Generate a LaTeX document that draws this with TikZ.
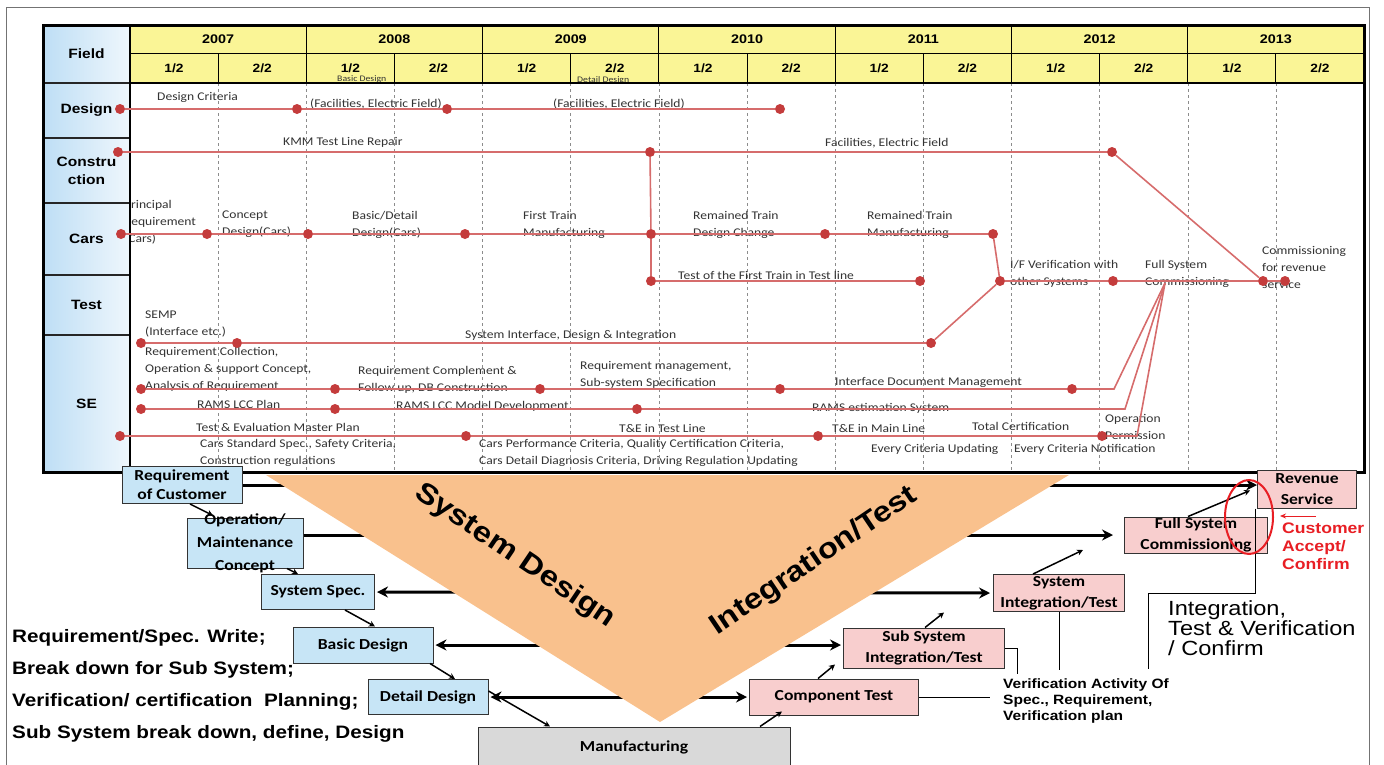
\documentclass[tikz,border=0pt]{standalone}
\usepackage{fontspec}
\setmainfont{Liberation Sans}[FakeStretch=1.15]
\newfontfamily\calib{Carlito}[FakeStretch=1.15]
\usetikzlibrary{arrows.meta}
\definecolor{fieldblue}{RGB}{190,222,245}
\definecolor{headyellow}{RGB}{250,245,150}
\definecolor{tline}{RGB}{214,108,108}
\definecolor{dotred}{RGB}{196,60,60}
\definecolor{vorange}{RGB}{249,193,141}
\definecolor{boxblue}{RGB}{199,229,246}
\definecolor{boxpink}{RGB}{248,206,206}
\definecolor{boxgray}{RGB}{217,217,217}
\definecolor{okred}{RGB}{232,30,36}
\tikzset{
  yearcell/.style={draw, line width=1, fill=headyellow, minimum width=176.3, minimum height=28, inner sep=0, font=\bfseries\fontsize{12.5}{14}\selectfont},
  halfcell/.style={draw, line width=1, fill=headyellow, minimum width=88.15, minimum height=30, inner sep=0, font=\bfseries\fontsize{12}{14}\selectfont},
  fieldcell/.style={draw=black!85, line width=1.5, left color=fieldblue, right color=fieldblue!25, minimum width=87, inner sep=0, align=center, font=\bfseries\fontsize{13.5}{18}\selectfont},
  gridline/.style={draw=black!45, dashed, line width=0.6},
  tl/.style={draw=tline, line width=1.6},
  mdot/.style={circle, fill=dotred, inner sep=0, minimum size=10},
  lbl/.style={anchor=west, inner sep=0, align=left, text=black!80, font=\calib\fontsize{11.8}{17}\selectfont},
  vbox/.style={draw=black!80, line width=1, inner sep=0},
  bluebox/.style={vbox, fill=boxblue},
  pinkbox/.style={vbox, fill=boxpink},
  boxtxt/.style={inner sep=0, align=center, font=\calib\bfseries\fontsize{15.3}{21}\selectfont},
  bigarrow/.style={line width=3, -{Stealth[length=11, width=11]}},
  bigboth/.style={line width=3, {Stealth[length=11, width=11]}-{Stealth[length=11, width=11]}},
  smallarrow/.style={line width=1.5, -{Stealth[length=6, width=6]}},
  thinline/.style={line width=1},
  sidetxt/.style={anchor=west, inner sep=0, align=left, font=\bfseries\fontsize{18}{32}\selectfont},
  vtitle/.style={inner sep=0, font=\bfseries\fontsize{28.5}{34}\selectfont}
}
\begin{document}
\begin{tikzpicture}[x=1pt, y=-1pt, >=stealth]
\useasboundingbox (0,0) rectangle (1384,764);
\draw[black!55, line width=0.8] (6,7) rectangle (1369,775);

% time grid
\foreach \k in {1,...,13}
  \draw[gridline] (130+88.15*\k, 83) -- (130+88.15*\k, 472);

% activity labels
\node[lbl] (l1) at (157,97) {Design Criteria};
\node[lbl] (l2) at (310,104) {(Facilities, Electric Field)};
\node[lbl] (l3) at (553,104) {(Facilities, Electric Field)};
\node[lbl] (l4) at (283,142) {KMM Test Line Repair};
\node[lbl] (l5) at (825,143) {Facilities, Electric Field};
\node[lbl] (l6) at (124,222) {Principal\\Requirement\\(Cars)};
\node[lbl] (l7) at (222,224) {Concept\\Design(Cars)};
\node[lbl] (l8) at (352,225) {Basic/Detail\\Design(Cars)};
\node[lbl] (l9) at (523,225) {First Train\\Manufacturing};
\node[lbl] (l10) at (693,225) {Remained Train\\Design Change};
\node[lbl] (l11) at (867,225) {Remained Train\\Manufacturing};
\node[lbl] (l12) at (678,275) {Test of the First Train in Test line};
\node[lbl] (l13) at (1010,274) {I/F Verification with\\other Systems};
\node[lbl] (l14) at (1145,274) {Full System\\Commissioning};
\node[lbl] (l15) at (1262,267) {Commissioning\\for revenue\\service};
\node[lbl] (l16) at (145,324) {SEMP\\(Interface etc.)};
\node[lbl] (l17) at (465,335) {System Interface, Design \& Integration};
\node[lbl] (l18) at (145,369) {Requirement Collection,\\Operation \& support Concept,\\Analysis of Requirement};
\node[lbl] (l19) at (358,380) {Requirement Complement \&\\Follow up, DB Construction};
\node[lbl] (l20) at (580,375) {Requirement management,\\Sub-system Specification};
\node[lbl] (l21) at (835,382) {Interface Document Management};
\node[lbl] (l22) at (197,404) {RAMS LCC Plan};
\node[lbl] (l23) at (396,406) {RAMS LCC Model Development};
\node[lbl] (l24) at (812,408) {RAMS estimation System};
\node[lbl] (l25) at (196,427) {Test \& Evaluation Master Plan};
\node[lbl] (l26) at (200,453) {Cars Standard Spec., Safety Criteria,\\Construction regulations};
\node[lbl] (l27) at (619,428) {T\&E in Test Line};
\node[lbl] (l28) at (479,453) {Cars Performance Criteria, Quality Certification Criteria,\\Cars Detail Diagnosis Criteria, Driving Regulation Updating};
\node[lbl] (l29) at (832,428) {T\&E in Main Line};
\node[lbl] (l30) at (972,426) {Total Certification};
\node[lbl] (l31) at (1105,427) {Operation\\Permission};
\node[lbl] (l32) at (871,449) {Every Criteria Updating};
\node[lbl] (l33) at (1014,449) {Every Criteria Notification};

% header
\foreach \yr [count=\i from 0] in {2007,...,2013} {
  \node[yearcell] (y\yr) at (130+176.3*\i+88.15, 39.5) {\yr};
  \node[halfcell] (h\yr a) at (130+176.3*\i+44.08, 68) {1/2};
  \node[halfcell] (h\yr b) at (130+176.3*\i+132.23, 68) {2/2};
}
\node[lbl, font=\calib\fontsize{8.5}{10}\selectfont] (l0a) at (337,79) {Basic Design};
\node[lbl, font=\calib\fontsize{8.5}{10}\selectfont] (l0b) at (577,80) {Detail Design};
\node[fieldcell, minimum height=57] (field) at (86.5,54) {Field};
\node[fieldcell, minimum height=55] (fdesign) at (86.5,110.5) {Design};
\node[fieldcell, minimum height=65] (fconst) at (86.5,170.5) {Constru\\ction};
\node[fieldcell, minimum height=72] (fcars) at (86.5,239) {Cars};
\node[fieldcell, minimum height=60] (ftest) at (86.5,305) {Test};
\node[fieldcell, minimum height=137] (fse) at (86.5,403.5) {SE};
\draw[line width=2.5] (130,83) -- (1364,83);
\draw[line width=2.5] (130,25) -- (130,472);
\draw[line width=3] (43,25) rectangle (1364,472);

% milestones
\node[mdot] (ds1) at (120,109) {};
\node[mdot] (ds2) at (297,109) {};
\node[mdot] (ds3) at (447,109) {};
\node[mdot] (ds4) at (780,109) {};
\node[mdot] (cn1) at (118,152) {};
\node[mdot] (cn2) at (650,152) {};
\node[mdot] (cn3) at (1112,152) {};
\node[mdot] (cr1) at (121,234) {};
\node[mdot] (cr2) at (207,234) {};
\node[mdot] (cr3) at (308,234) {};
\node[mdot] (cr4) at (465,234) {};
\node[mdot] (cr5) at (651,234) {};
\node[mdot] (cr6) at (825,234) {};
\node[mdot] (cr7) at (993,234) {};
\node[mdot] (ts1) at (651,281) {};
\node[mdot] (ts2) at (920,281) {};
\node[mdot] (ts3) at (1000,281) {};
\node[mdot] (ts4) at (1113,281) {};
\node[mdot] (ts5) at (1263,281) {};
\node[mdot] (ts6) at (1285,281) {};
\node[mdot] (se1) at (141,343) {};
\node[mdot] (se2) at (237,343) {};
\node[mdot] (se3) at (931,343) {};
\node[mdot] (rq1) at (141,389) {};
\node[mdot] (rq2) at (335,389) {};
\node[mdot] (rq3) at (540,389) {};
\node[mdot] (rq4) at (780,389) {};
\node[mdot] (rq5) at (1072,389) {};
\node[mdot] (rm1) at (141,409) {};
\node[mdot] (rm2) at (335,409) {};
\node[mdot] (rm3) at (637,409) {};
\node[mdot] (te1) at (120,436) {};
\node[mdot] (te2) at (466,436) {};
\node[mdot] (te3) at (818,436) {};
\node[mdot] (te4) at (1102,436) {};
\coordinate (fsc) at (1165,283);
\coordinate (rqend) at (1114,389);
\coordinate (rmend) at (1125,409);
\coordinate (teend) at (1137,436);

\draw[tl] (ds1) -- (ds2) -- (ds3) -- (ds4);
\draw[tl] (cn1) -- (cn2) -- (cn3) -- (ts5);
\draw[tl] (cn2) -- (cr5) -- (ts1) -- (ts2);
\draw[tl] (cr1) -- (cr2) -- (cr3) -- (cr4) -- (cr5) -- (cr6) -- (cr7) -- (ts3);
\draw[tl] (ts3) -- (ts4) -- (ts5) -- (ts6);
\draw[tl] (se1) -- (se2) -- (se3) -- (ts3);
\draw[tl] (rq1) -- (rq2) -- (rq3) -- (rq4) -- (rq5) -- (rqend) -- (fsc);
\draw[tl] (rm1) -- (rm2) -- (rm3) -- (rmend) -- (fsc);
\draw[tl] (te1) -- (te2) -- (te3) -- (te4) -- (teend) -- (fsc);

% V model
\node[bluebox, minimum width=120, minimum height=37] (req) at (182,485) {};
\node[bluebox, minimum width=116, minimum height=50] (opm) at (245,543) {};
\node[bluebox, minimum width=113, minimum height=35] (spec) at (318,592) {};
\node[bluebox, minimum width=140, minimum height=36] (basic) at (363,645) {};
\node[bluebox, minimum width=120, minimum height=35] (detail) at (428,697) {};
\node[vbox, fill=boxgray, minimum width=312, minimum height=46] (manuf) at (634,750) {};
\node[pinkbox, minimum width=169, minimum height=36] (comp) at (834,697) {};
\node[pinkbox, minimum width=161, minimum height=40] (subsys) at (924,648) {};
\node[pinkbox, minimum width=131, minimum height=37] (sysint) at (1059,593) {};
\node[pinkbox, minimum width=143, minimum height=36] (fullsys) at (1196,535) {};
\node[pinkbox, minimum width=99, minimum height=38] (revenue) at (1307,489) {};

\draw[bigarrow] (req.east) -- (req.east -| revenue.west);
\draw[bigarrow] (opm.east |- fullsys.west) -- ([xshift=-11]fullsys.west);
\draw[bigboth] ([xshift=2]spec.east) -- ([xshift=-3]sysint.west);
\draw[bigboth] ([xshift=2]basic.east) -- ([xshift=-2]subsys.west |- basic.east);
\draw[bigboth] ([xshift=2]detail.east) -- ([xshift=-2]comp.west);

\fill[vorange] (266,475) -- (1069,475) -- (660,722) -- cycle;
\node[vtitle, rotate=-34] (sdtitle) at (515,556) {System Design};
\node[vtitle, rotate=34] (ittitle) at (814,561) {Integration/Test};

\node[boxtxt, font=\calib\bfseries\fontsize{15.3}{19}\selectfont] (reqtxt) at (req) {Requirement\\of Customer};
\node[boxtxt, font=\calib\bfseries\fontsize{15.3}{23}\selectfont] (opmtxt) at (opm) {Operation/\\Maintenance\\Concept};
\node[boxtxt] (spectxt) at (spec) {System Spec.};
\node[boxtxt] (basictxt) at (basic) {Basic Design};
\node[boxtxt] (detailtxt) at (detail) {Detail Design};
\node[boxtxt] (manuftxt) at (634,747) {Manufacturing};
\node[boxtxt] (comptxt) at (comp) {Component Test};
\node[boxtxt] (subsystxt) at (subsys) {Sub System\\Integration/Test};
\node[boxtxt] (sysinttxt) at (sysint) {System\\Integration/Test};
\node[boxtxt] (fullsystxt) at (fullsys) {Full System\\Commissioning};
\node[boxtxt] (revenuetxt) at (revenue) {Revenue\\Service};

\draw[smallarrow] ([xshift=8]req.south) -- ([xshift=-32,yshift=2]opm.north);
\draw[smallarrow] ([xshift=42]opm.south) -- ([xshift=-20]spec.north);
\draw[smallarrow] ([xshift=27]spec.south) -- ([xshift=12]basic.north);
\draw[smallarrow] ([xshift=67]basic.south) -- ([xshift=27]detail.north);
\draw[smallarrow] ([yshift=6]detail.east) -- ([xshift=-84]manuf.north);
\draw[smallarrow] ([xshift=126]manuf.north) -- ++(22,-15);
\draw[smallarrow] ([xshift=-16]comp.north) -- ++(17,-14);
\draw[smallarrow] ([xshift=1]subsys.north) -- ++(19,-15);
\draw[smallarrow] ([xshift=-26]sysint.north) -- ++(50,-24);
\draw[smallarrow] ([xshift=-8]fullsys.north) -- ++(62,-26);

% verification links
\node[inner sep=0, anchor=west, align=left, font=\bfseries\fontsize{13.5}{16}\selectfont] (verif) at (1003,701) {Verification Activity Of\\Spec., Requirement,\\Verification plan};
\draw[thinline] (comp.east) -- ++(71,0);
\draw[thinline] (subsys.east) -- ++(12,0) -- ++(0,26);
\draw[thinline] (sysint.south) -- ++(0,58);
\draw[thinline] (revenue.south west) ++(-2,0) -- ++(0,85) -- ++(-107,0) -- ++(0,75);
\node[inner sep=0, anchor=west, align=left, font=\fontsize{20.5}{20}\selectfont] (itv) at (1168,628) {Integration,\\Test \& Verification\\/ Confirm};

\draw[okred, line width=2] (1249,517) ellipse [x radius=24, y radius=37];
\node[inner sep=0, anchor=west, align=left, text=okred, font=\bfseries\fontsize{15.3}{18}\selectfont] (accept) at (1282,546) {Customer\\Accept/\\Confirm};
\draw[okred, line width=1, -{Stealth[length=6, width=5]}] (1316,516) -- (1280,516);

\node[sidetxt] (notes) at (12,686) {Requirement/Spec. Write;\\Break down for Sub System;\\Verification/ certification\ \ Planning;\\Sub System break down, define, Design};
\end{tikzpicture}
\end{document}
